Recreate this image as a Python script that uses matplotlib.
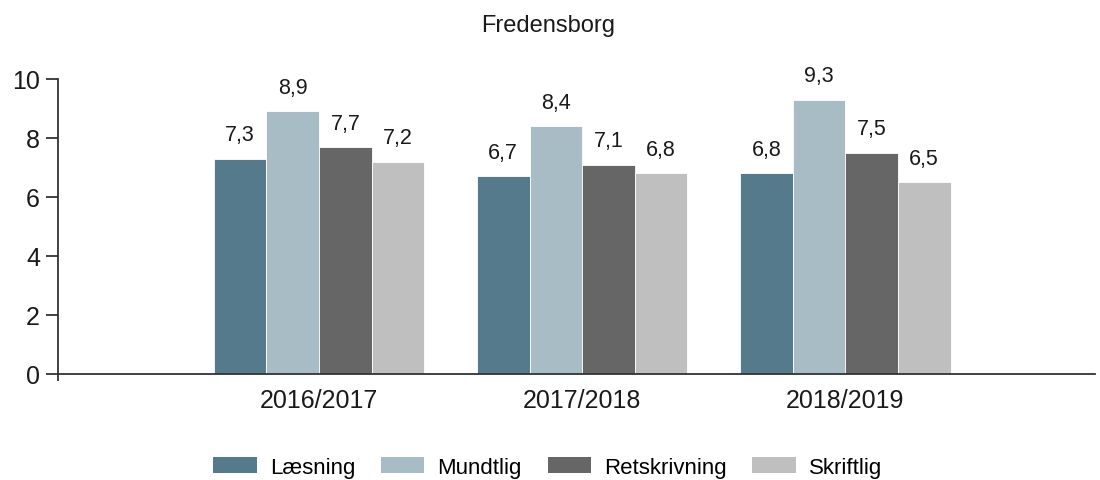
"""Fredensborg: karakterer fordelt på fag og skoleår."""

import matplotlib.pyplot as plt
import numpy as np
from matplotlib.patches import Patch

plt.rcParams['font.family'] = ['Liberation Sans', 'DejaVu Sans']

title = 'Fredensborg'
years = ['2016/2017', '2017/2018', '2018/2019']
subjects = ['Læsning', 'Mundtlig', 'Retskrivning', 'Skriftlig']
laesning = [7.3, 6.7, 6.8]
mundtlig = [8.9, 8.4, 9.3]
retskrivning = [7.7, 7.1, 7.5]
skriftlig = [7.2, 6.8, 6.5]
colors = ['#557a8c', '#a8bcc6', '#666666', '#bfbfbf']


def main():
    series = [laesning, mundtlig, retskrivning, skriftlig]
    x = np.arange(len(years))
    width = 0.2

    fig = plt.figure(figsize=(11, 4.81), dpi=100)
    ax = fig.add_axes([0.0527, 0.2204, 0.943, 0.6133])

    for i, (vals, col) in enumerate(zip(series, colors)):
        pos = x + (i - 1.5) * width
        ax.bar(pos, vals, width, color=col, edgecolor='white', linewidth=0.6)
        for p, v in zip(pos, vals):
            ax.text(p, v + 0.45, f'{v:.1f}'.replace('.', ','), ha='center',
                    va='bottom', fontsize=15.5, color='#1a1a1a')

    ax.set_xlim(-0.992, 2.95)
    ax.set_ylim(0, 10)
    ax.set_yticks(range(0, 11, 2))
    ax.set_xticks(x)
    ax.set_xticklabels(years)
    ax.tick_params(axis='x', length=0, labelsize=18, pad=10, colors='#1a1a1a')
    ax.tick_params(axis='y', length=9, width=1.3, labelsize=18, pad=4,
                   colors='#333333', labelcolor='#1a1a1a')
    ax.set_xticks([-0.992], minor=True)
    ax.tick_params(axis='x', which='minor', length=5, width=1.3,
                   color='#333333')
    for s in ['top', 'right']:
        ax.spines[s].set_visible(False)
    for s in ['left', 'bottom']:
        ax.spines[s].set_color('#333333')
        ax.spines[s].set_linewidth(1.3)

    fig.text(0.498, 0.945, title, ha='center', va='center', fontsize=17,
             color='#1a1a1a')

    handles = [Patch(facecolor=c, edgecolor='none') for c in colors]
    fig.legend(handles, subjects, loc='center', bbox_to_anchor=(0.498, 0.026),
               ncol=4, frameon=False, fontsize=16, handlelength=1.95,
               handleheight=0.75, handletextpad=0.6, columnspacing=1.15,
               borderpad=0.2)

    fig.savefig('out.png')


if __name__ == '__main__':
    main()
